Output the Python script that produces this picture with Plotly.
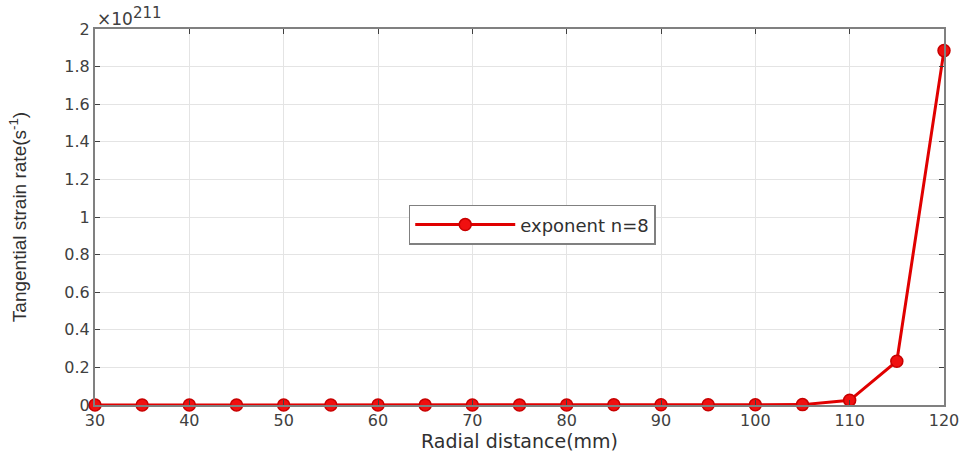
import plotly.graph_objects as go

# Radial positions (mm) and tangential strain rate in units of 1e211 s^-1
radial_mm = [30, 35, 40, 45, 50, 55, 60, 65, 70, 75, 80, 85, 90, 95, 100, 105, 110, 115, 120]
strain_rate_e211 = [0.0, 0.0, 0.0, 0.0, 0.0, 0.0, 0.0, 0.0, 0.0, 0.0, 0.0,
                    0.001, 0.001, 0.001, 0.001, 0.002, 0.025, 0.233, 1.885]
series_name = "exponent n=8"
x_ticks = [30, 40, 50, 60, 70, 80, 90, 100, 110, 120]
y_ticks = [0, 0.2, 0.4, 0.6, 0.8, 1, 1.2, 1.4, 1.6, 1.8, 2]
y_tick_text = ["0", "0.2", "0.4", "0.6", "0.8", "1", "1.2", "1.4", "1.6", "1.8", "2"]

axis_col = "#808080"
wide = "DejaVu Sans, Verdana, sans-serif"
tick_font = dict(family=wide, size=16, color="#404040")

fig = go.Figure()
fig.add_trace(go.Scatter(
    x=radial_mm, y=strain_rate_e211, name=series_name,
    mode="lines+markers",
    line=dict(color="#e00000", width=3),
    marker=dict(symbol="circle", size=12, color="#f01010",
                line=dict(color="#c80000", width=1.5)),
    cliponaxis=False,
))

fig.update_layout(
    width=972, height=453,
    margin=dict(l=95, r=28, t=29, b=48, autoexpand=False),
    paper_bgcolor="white", plot_bgcolor="white",
    showlegend=True,
    legend=dict(x=0.515, y=0.479, xanchor="center", yanchor="middle",
                bgcolor="white", bordercolor="#808080", borderwidth=1.5,
                font=dict(family=wide, size=18, color="#303030"),
                itemwidth=100, tracegroupgap=0),
    xaxis=dict(range=[30, 120], tickvals=x_ticks, showgrid=True, gridcolor="#e4e4e4",
               gridwidth=1, showline=True, linecolor=axis_col, linewidth=2, mirror="ticks",
               ticks="inside", ticklen=5, tickcolor="#404040", tickfont=tick_font,
               zeroline=False, automargin=False,
               title=dict(text="Radial distance(mm)", standoff=2,
                          font=dict(family=wide, size=19, color="#303030"))),
    yaxis=dict(range=[0, 2], tickvals=y_ticks, ticktext=y_tick_text, showgrid=True,
               gridcolor="#e4e4e4", gridwidth=1, showline=True, linecolor=axis_col,
               linewidth=2, mirror="ticks", ticks="inside", ticklen=5, tickcolor="#404040",
               tickfont=tick_font, zeroline=False, automargin=False,
               title=dict(text="Tangential strain rate(s<sup>-1</sup>)", standoff=33,
                          font=dict(family="Liberation Sans Narrow, Liberation Sans, Arial, sans-serif",
                                    size=19, color="#303030"))),
    annotations=[dict(text="×10<sup><span style='font-size:15px'>211</span></sup>",
                      xref="paper", yref="paper", x=0.0, y=1.0,
                      xanchor="left", yanchor="bottom", showarrow=False, xshift=0, yshift=-2,
                      font=dict(family=wide, size=17, color="#404040"))],
)

fig.write_html("out.html")
